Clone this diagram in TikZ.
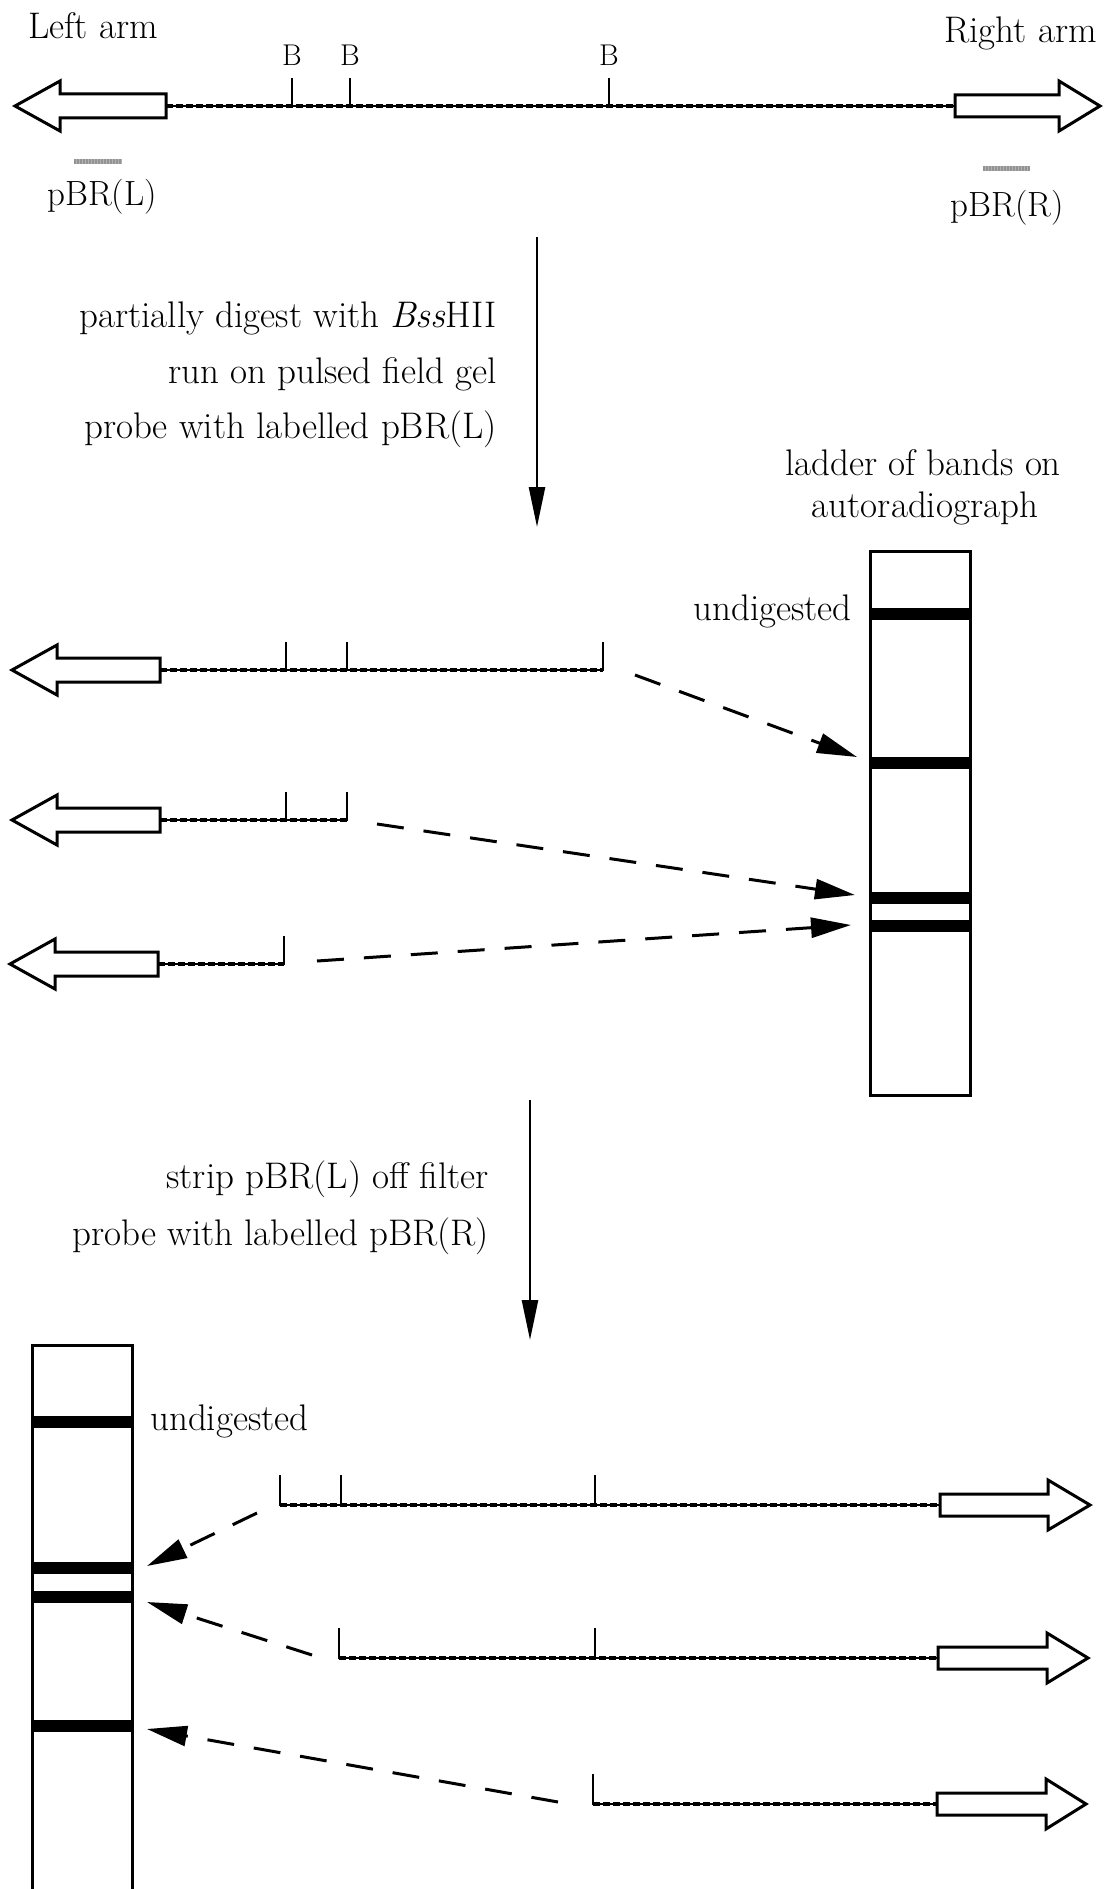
\documentclass[tikz,border=0pt]{standalone}
\usepackage{fontspec}
\usetikzlibrary{arrows.meta}
\tikzset{
  txt/.style={font=\fontsize{37}{42}\selectfont, inner sep=0pt},
  ptxt/.style={font=\fontsize{35}{40}\selectfont, inner sep=0pt},
  blab/.style={font=\fontsize{30}{34}\selectfont, inner sep=0pt},
  outl/.style={line width=3pt, line join=miter},
  dna/.style={line width=1.4pt, preaction={draw, line width=4.5pt, dash pattern=on 7pt off 3pt}},
  ticky/.style={line width=2.2pt},
  probe/.style={line width=5pt, gray!60, postaction={draw, line width=5pt, gray!85, dash pattern=on 1.5pt off 1.5pt}},
  band/.style={line width=12pt},
  gel/.style={draw, line width=3pt, inner sep=0pt, outer sep=0pt, anchor=north west},
  mainarrow/.style={line width=2.5pt, -{Triangle[length=40pt,width=16pt]}},
  dasharrow/.style={line width=3pt, dash pattern=on 27pt off 20pt, -{Triangle[length=40pt,width=20pt]}},
}
% left arm: tip x, body right x, y
\newcommand{\armL}[3]{%
  \draw[outl] (#1,#3) -- (#1+45,#3-25) -- (#1+45,#3-12) -- (#2,#3-12) -- (#2,#3+12) -- (#1+45,#3+12) -- (#1+45,#3+25) -- cycle;}
% right arm: body left x, head back x, tip x, y
\newcommand{\armR}[4]{%
  \draw[outl] (#1,#4-11) -- (#2,#4-11) -- (#2,#4-25) -- (#3,#4) -- (#2,#4+25) -- (#2,#4+11) -- (#1,#4+11) -- cycle;}
\begin{document}
\begin{tikzpicture}[x=1pt,y=-1pt]
\useasboundingbox (0,0) rectangle (1104,1889);

% ---------- top map ----------
\node[txt, anchor=base west] (leftarm) at (28,39) {Left arm};
\node[txt, anchor=base east] (rightarm) at (1097,43) {Right arm};
\node[blab, anchor=base] (b1) at (292,66) {B};
\node[blab, anchor=base] (b2) at (350,66) {B};
\node[blab, anchor=base] (b3) at (609,66) {B};
\coordinate (L0) at (166,106);
\coordinate (R0) at (955,106);
\armL{15}{166}{106}
\draw[dna] (L0) -- (R0);
\armR{955}{1059}{1100}{106}
\foreach \x in {292,350,609} \draw[ticky] (\x,106) -- (\x,78);
\coordinate (pl1) at (74,162); \coordinate (pl2) at (122,162);
\draw[probe] (pl1) -- (pl2);
\coordinate (pr1) at (983,169); \coordinate (pr2) at (1030,169);
\draw[probe] (pr1) -- (pr2);
\node[ptxt, anchor=base] (pbrl) at (102,205) {pBR(L)};
\node[ptxt, anchor=base] (pbrr) at (1007,216) {pBR(R)};

% ---------- step 1 ----------
\node[txt, anchor=base east] (s1a) at (497,327) {partially digest with \textit{Bss}HII};
\node[txt, anchor=base east] (s1b) at (497,383) {run on pulsed field gel};
\node[txt, anchor=base east] (s1c) at (497,438) {probe with labelled pBR(L)};
\coordinate (a1s) at (537,237); \coordinate (a1e) at (537,527);
\draw[mainarrow] (a1s) -- (a1e);

% ---------- gel 1 ----------
\node[txt, anchor=base] (lad1) at (923,475) {ladder of bands on};
\node[txt, anchor=base] (lad2) at (925,517) {autoradiograph};
\node[gel, minimum width=100pt, minimum height=544pt] (gel1) at (870,551) {};
\coordinate (g1b1) at (870,614); \coordinate (g1b2) at (870,763);
\coordinate (g1b3) at (870,898); \coordinate (g1b4) at (870,926);
\foreach \y in {614,763,898,926} \draw[band] (870,\y) -- (970,\y);
\node[txt, anchor=base east] (und1) at (852,620) {undigested};

% fragments (left arm)
\armL{12}{160}{670}
\coordinate (f1s) at (160,670); \coordinate (f1e) at (603,670);
\draw[dna] (f1s) -- (f1e);
\foreach \x in {286,347,603} \draw[ticky] (\x,671) -- (\x,642);

\armL{12}{160}{820}
\coordinate (f2s) at (160,820); \coordinate (f2e) at (347,820);
\draw[dna] (f2s) -- (f2e);
\foreach \x in {286,347} \draw[ticky] (\x,821) -- (\x,792);

\armL{10}{158}{964}
\coordinate (f3s) at (158,964); \coordinate (f3e) at (284,964);
\draw[dna] (f3s) -- (f3e);
\draw[ticky] (284,965) -- (284,936);

% dashed connectors to gel 1
\coordinate (dA1) at (635,675); \coordinate (dA2) at (857,757);
\coordinate (dB1) at (377,824); \coordinate (dB2) at (855,895);
\coordinate (dC1) at (317,961); \coordinate (dC2) at (851,925);
\draw[dasharrow] (dA1) -- (dA2);
\draw[dasharrow] (dB1) -- (dB2);
\draw[dasharrow] (dC1) -- (dC2);

% ---------- step 2 ----------
\node[txt, anchor=base east] (s2a) at (489,1188) {strip pBR(L) off filter};
\node[txt, anchor=base east] (s2b) at (489,1245) {probe with labelled pBR(R)};
\coordinate (a2s) at (530,1100); \coordinate (a2e) at (530,1340);
\draw[mainarrow] (a2s) -- (a2e);

% ---------- gel 2 ----------
\node[gel, minimum width=100pt, minimum height=570pt] (gel2) at (32,1345) {};
\foreach \y in {1422,1568,1597,1726} \draw[band] (32,\y) -- (132,\y);
\node[txt, anchor=base west] (und2) at (150,1430) {undigested};

% fragments (right arm)
\coordinate (r1s) at (280,1505); \coordinate (r1e) at (940,1505);
\draw[dna] (r1s) -- (r1e);
\foreach \x in {280,341,595} \draw[ticky] (\x,1506) -- (\x,1475);
\armR{940}{1048}{1090}{1505}

\coordinate (r2s) at (339,1658); \coordinate (r2e) at (938,1658);
\draw[dna] (r2s) -- (r2e);
\foreach \x in {339,595} \draw[ticky] (\x,1659) -- (\x,1628);
\armR{938}{1047}{1088}{1658}

\coordinate (r3s) at (593,1804); \coordinate (r3e) at (937,1804);
\draw[dna] (r3s) -- (r3e);
\draw[ticky] (593,1805) -- (593,1774);
\armR{937}{1046}{1086}{1804}

% dashed connectors to gel 2
\coordinate (dD1) at (257,1513); \coordinate (dD2) at (147,1566);
\coordinate (dE1) at (312,1655); \coordinate (dE2) at (147,1602);
\coordinate (dF1) at (558,1802); \coordinate (dF2) at (147,1729);
\draw[dasharrow] (dD1) -- (dD2);
\draw[dasharrow] (dE1) -- (dE2);
\draw[dasharrow] (dF1) -- (dF2);
\end{tikzpicture}
\end{document}
